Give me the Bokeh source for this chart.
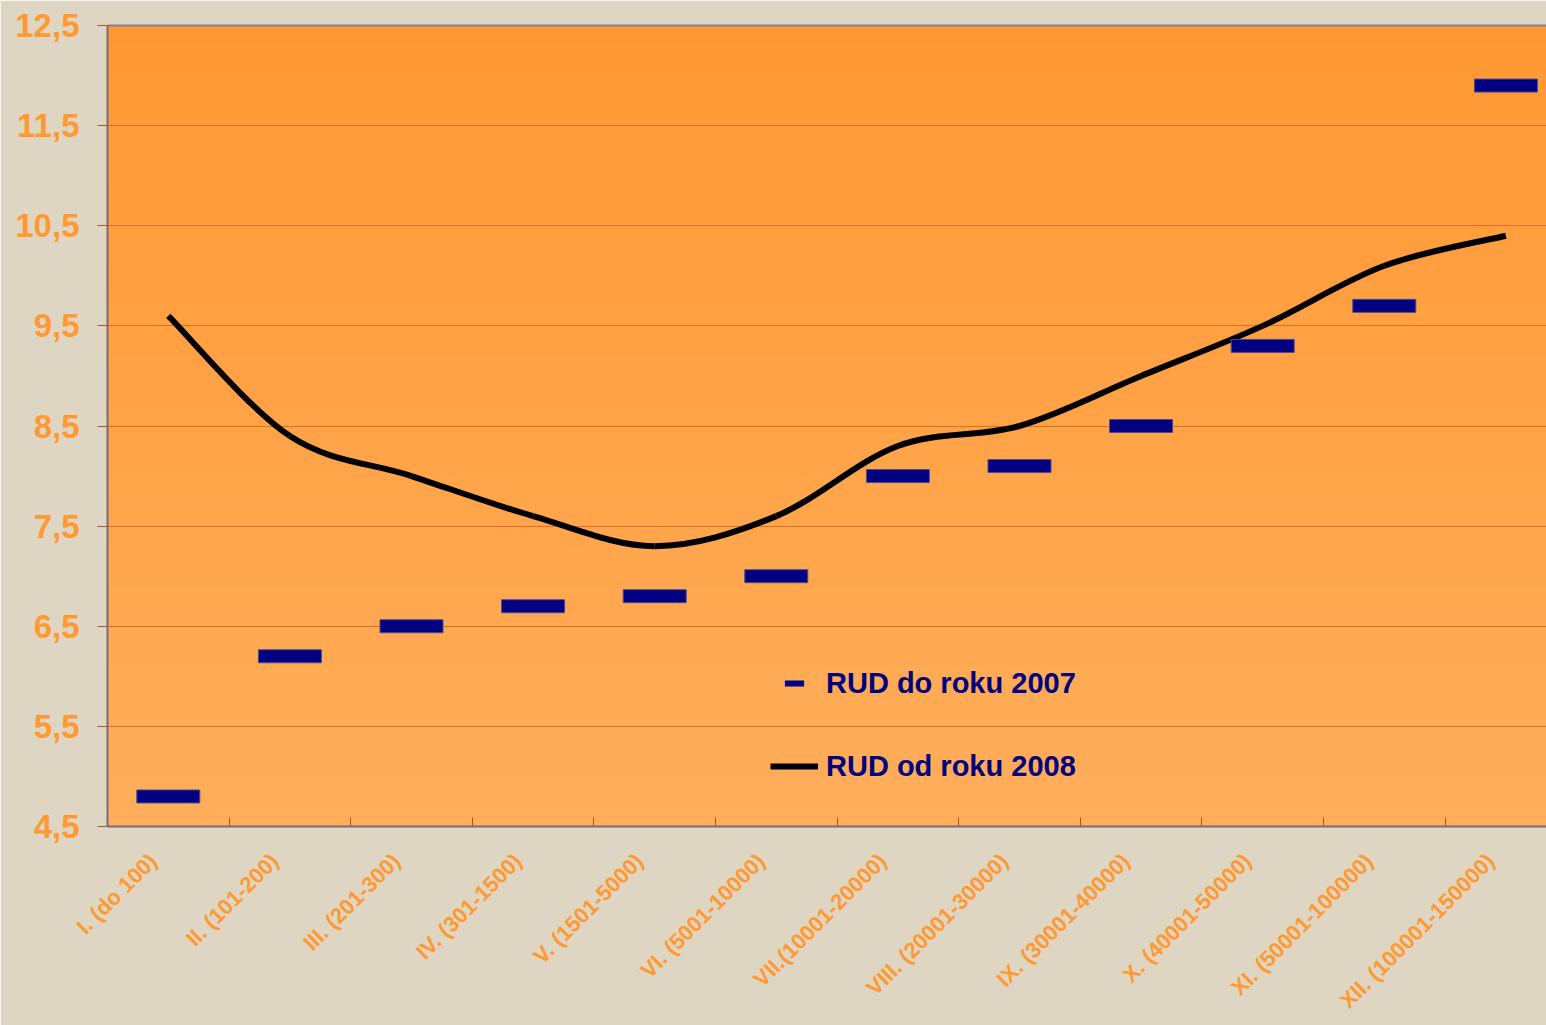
from bokeh.plotting import figure
from bokeh.models import (Range1d, FixedTicker, Legend, LegendItem, LinearAxis)
from bokeh.embed import file_html
from bokeh.resources import INLINE

categories = ["I. (do 100)", "II. (101-200)", "III. (201-300)", "IV. (301-1500)",
              "V. (1501-5000)", "VI. (5001-10000)", "VII.(10001-20000)", "VIII. (20001-30000)",
              "IX. (30001-40000)", "X. (40001-50000)", "XI. (50001-100000)", "XII. (100001-150000)"]
rud_2007 = [4.8, 6.2, 6.5, 6.7, 6.8, 7.0, 8.0, 8.1, 8.5, 9.3, 9.7, 11.9]
rud_2008 = [9.6, 8.4, 8.0, 7.6, 7.3, 7.6, 8.3, 8.5, 9.0, 9.5, 10.1, 10.4]
y_ticks = [4.5, 5.5, 6.5, 7.5, 8.5, 9.5, 10.5, 11.5, 12.5]
y_tick_labels = ["4,5", "5,5", "6,5", "7,5", "8,5", "9,5", "10,5", "11,5", "12,5"]

FONT = "Liberation Sans"
ORANGE = "#FF9933"
NAVY = "#000080"
BG = "#DED6C2"

n = len(categories)
idx = list(range(n))

p = figure(width=1546, height=1025, output_backend="svg", toolbar_location=None,
           x_range=Range1d(-0.5, 11.334), y_range=Range1d(4.5, 12.5),
           min_border_left=107, min_border_right=0, min_border_top=25, min_border_bottom=199)
p.border_fill_color = BG
p.background_fill_color = "#FFA346"
p.outline_line_color = None

# vertical gradient background (decoration)
nb = 80
y0 = y_ticks[0]
y1 = y_ticks[-1]
top_c = (255, 152, 50)
bot_c = (255, 174, 92)
bands_b, bands_t, bands_col = [], [], []
for k in range(nb):
    b = y0 + (y1 - y0) * k / nb
    t = y0 + (y1 - y0) * (k + 1) / nb
    f = (k + 0.5) / nb
    c = tuple(int(round(bot_c[j] + (top_c[j] - bot_c[j]) * f)) for j in range(3))
    bands_b.append(b)
    bands_t.append(t)
    bands_col.append("#%02x%02x%02x" % c)
p.quad(left=-2, right=14, bottom=bands_b, top=bands_t, fill_color=bands_col, line_color=None, level="image")

p.xgrid.visible = False
p.ygrid.ticker = FixedTicker(ticks=y_ticks)
p.ygrid.grid_line_color = "#D9702A"
p.ygrid.grid_line_width = 1

# y axis
ya = p.yaxis[0]
ya.ticker = FixedTicker(ticks=y_ticks)
ya.major_label_overrides = {t: l for t, l in zip(y_ticks, y_tick_labels)}
ya.major_label_text_font = FONT
ya.major_label_text_font_style = "bold"
ya.major_label_text_font_size = "33px"
ya.major_label_text_color = ORANGE
ya.major_tick_in = 0
ya.major_tick_out = 10
ya.major_tick_line_color = "#B0502A"
ya.minor_tick_line_color = None
ya.axis_line_color = "#7A6A78"
ya.axis_line_width = 2
ya.major_label_standoff = 18

# x axis
shift = -0.125
xa = p.xaxis[0]
xa.ticker = FixedTicker(ticks=[i + shift for i in idx], minor_ticks=[i + 0.5 for i in idx[:-1]])
xa.major_label_overrides = {i + shift: c for i, c in zip(idx, categories)}
xa.major_label_orientation = 0.7853981634
xa.major_label_text_font = FONT
xa.major_label_text_font_style = "bold"
xa.major_label_text_font_size = "22px"
xa.major_label_text_color = ORANGE
xa.major_tick_line_color = None
xa.major_tick_in = 0
xa.major_tick_out = 0
xa.minor_tick_in = 9
xa.minor_tick_out = 0
xa.minor_tick_line_color = "#B0502A"
xa.axis_line_color = "#7A6A78"
xa.axis_line_width = 2
xa.major_label_standoff = 31

# top border line
top_axis = LinearAxis(ticker=FixedTicker(ticks=[]), axis_line_color="#8A8088", axis_line_width=2,
                      major_tick_line_color=None, minor_tick_line_color=None,
                      major_tick_out=0, major_label_standoff=0)
p.add_layout(top_axis, "above")

# smooth line via bezier segments (Catmull-Rom style control points)
xs = idx
ys = rud_2008
bx0, by0, bx1, by1, cx0, cy0, cx1, cy1 = [], [], [], [], [], [], [], []
for i in range(n - 1):
    xm1, ym1 = (xs[i - 1], ys[i - 1]) if i > 0 else (xs[i], ys[i])
    xp2, yp2 = (xs[i + 2], ys[i + 2]) if i + 2 < n else (xs[i + 1], ys[i + 1])
    bx0.append(xs[i]); by0.append(ys[i])
    bx1.append(xs[i + 1]); by1.append(ys[i + 1])
    cx0.append(xs[i] + (xs[i + 1] - xm1) / 6.0)
    cy0.append(ys[i] + (ys[i + 1] - ym1) / 6.0)
    cx1.append(xs[i + 1] - (xp2 - xs[i]) / 6.0)
    cy1.append(ys[i + 1] - (yp2 - ys[i]) / 6.0)
p.bezier(x0=bx0, y0=by0, x1=bx1, y1=by1, cx0=cx0, cy0=cy0, cx1=cx1, cy1=cy1,
         line_color="black", line_width=6, line_cap="butt")

# dashes
p.rect(x=idx, y=rud_2007, width=63, height=13, width_units="screen", height_units="screen",
       fill_color=NAVY, line_color="#4A4A9A", line_width=1)

# legend proxies (placed outside the visible range)
r_leg1 = p.scatter(x=[-10], y=[0], marker="dash", size=20, line_color=NAVY, line_width=6)
r_leg2 = p.line(x=[-10, -9], y=[0, 0], line_color="black", line_width=6)

legend = Legend(items=[LegendItem(label="RUD do roku 2007", renderers=[r_leg1]),
                       LegendItem(label="RUD od roku 2008", renderers=[r_leg2])],
                location=(663, 35), padding=0, margin=0, spacing=33,
                glyph_width=48, glyph_height=50, label_height=50, label_standoff=8,
                label_text_font=FONT, label_text_font_style="bold", label_text_font_size="29px",
                label_text_color=NAVY, border_line_color=None, background_fill_alpha=0)
p.add_layout(legend, "center")

open("out.html", "w").write(file_html(p, INLINE))
